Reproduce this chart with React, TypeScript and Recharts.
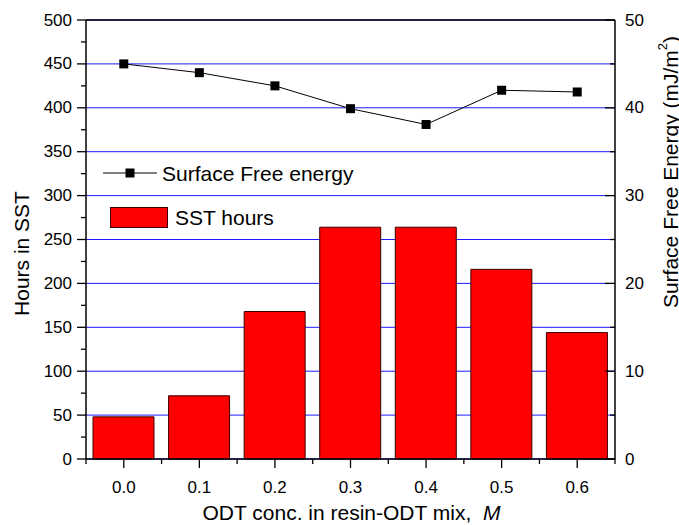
import { ComposedChart, Bar, Line, XAxis, YAxis, CartesianGrid, ReferenceLine, Legend } from "recharts";

const FONT = "'Liberation Sans', Arial, sans-serif";

// ODT concentration (M)
const odtConc = [0.0, 0.1, 0.2, 0.3, 0.4, 0.5, 0.6];
// SST hours (bars, left axis)
const sstHours = [48, 72, 168, 264, 264, 216, 144];
// Surface free energy, mJ/m2 (line, right axis)
const surfaceEnergy = [45.0, 44.0, 42.5, 39.9, 38.1, 42.0, 41.8];

const xTicks = [-0.05, 0, 0.05, 0.1, 0.15, 0.2, 0.25, 0.3, 0.35, 0.4, 0.45, 0.5, 0.55, 0.6, 0.65];
const xMajor = [0, 0.1, 0.2, 0.3, 0.4, 0.5, 0.6];
const xLabels = ["0.0", "0.1", "0.2", "0.3", "0.4", "0.5", "0.6"];

const hoursTicks = [0, 25, 50, 75, 100, 125, 150, 175, 200, 225, 250, 275, 300, 325, 350, 375, 400, 425, 450, 475, 500];
const hoursMajor = [0, 50, 100, 150, 200, 250, 300, 350, 400, 450, 500];

// right axis ticks every 5 line up with the 50 h grid
const energyTicks = [0, 5, 10, 15, 20, 25, 30, 35, 40, 45, 50];
const energyMajor = [0, 10, 20, 30, 40, 50];

const data = odtConc.map((x, i) => ({ x, hours: sstHours[i], energy: surfaceEnergy[i] }));

const near = (list: number[], v: number) => list.findIndex((m) => Math.abs(m - v) < 1e-6);

function BottomTick({ x, y, payload }: any) {
  const idx = near(xMajor, payload.value);
  const major = idx >= 0;
  return (
    <g>
      <line x1={x} x2={x} y1={y} y2={y + (major ? 9 : 5)} stroke="#000" strokeWidth={1.3} />
      {major && (
        <text x={x} y={y + 28} textAnchor="middle" dominantBaseline="central" fontSize={17} fontFamily={FONT} fill="#000">
          {xLabels[idx]}
        </text>
      )}
    </g>
  );
}

function LeftTick({ x, y, payload }: any) {
  const major = near(hoursMajor, payload.value) >= 0;
  return (
    <g>
      <line x1={x} x2={x - (major ? 9 : 5)} y1={y} y2={y} stroke="#000" strokeWidth={1.3} />
      {major && (
        <text x={x - 14} y={y} textAnchor="end" dominantBaseline="central" fontSize={17} fontFamily={FONT} fill="#000">
          {payload.value}
        </text>
      )}
    </g>
  );
}

function RightTick({ x, y, payload }: any) {
  const major = near(energyMajor, payload.value) >= 0;
  return (
    <g>
      <line x1={x} x2={x - (major ? 10 : 5)} y1={y} y2={y} stroke="#000" strokeWidth={1.3} />
      {major && (
        <text x={x + 10} y={y} textAnchor="start" dominantBaseline="central" fontSize={17} fontFamily={FONT} fill="#000">
          {payload.value}
        </text>
      )}
    </g>
  );
}

function SquareDot({ cx, cy, index }: any) {
  return <rect key={`dot-${index}`} x={cx - 4.5} y={cy - 4.5} width={9} height={9} fill="#000" />;
}

function LegendBox() {
  return (
    <svg width={260} height={90} style={{ display: "block" }}>
      <line x1={3} x2={57} y1={18} y2={18} stroke="#000" strokeWidth={1} />
      <rect x={25.5} y={13.5} width={9} height={9} fill="#000" />
      <text x={62} y={18} dominantBaseline="central" fontSize={21} fontFamily={FONT} fill="#000">
        Surface Free energy
      </text>
      <rect x={10.5} y={52.5} width={57} height={20} fill="#ff0000" stroke="#3c0000" strokeWidth={1} />
      <text x={75} y={62} dominantBaseline="central" fontSize={21} fontFamily={FONT} fill="#000">
        SST hours
      </text>
    </svg>
  );
}

function LeftTitle({ viewBox }: any) {
  const cx = viewBox.x + 21;
  const cy = viewBox.y + viewBox.height / 2 + 14;
  return (
    <text x={cx} y={cy} transform={`rotate(-90 ${cx} ${cy})`} textAnchor="middle" dominantBaseline="central" fontSize={21} fontFamily={FONT} fill="#000">
      Hours in SST
    </text>
  );
}

function RightTitle({ viewBox }: any) {
  const cx = viewBox.x + 55;
  const cy = viewBox.y + 152;
  return (
    <text x={cx} y={cy} transform={`rotate(-90 ${cx} ${cy})`} textAnchor="middle" dominantBaseline="central" fontSize={21} fontFamily={FONT} fill="#000">
      Surface Free Energy (mJ/m
      <tspan dy={-8} fontSize={13}>2</tspan>
      <tspan dy={8}>)</tspan>
    </text>
  );
}

function BottomTitle({ viewBox }: any) {
  const cx = viewBox.x + viewBox.width / 2 + 1;
  const cy = viewBox.y + 61;
  return (
    <text x={cx} y={cy} textAnchor="middle" fontSize={21} fontFamily={FONT} fill="#000" style={{ whiteSpace: "pre" }}>
      {"ODT conc. in resin-ODT mix,  "}
      <tspan fontStyle="italic">M</tspan>
    </text>
  );
}

export default function App() {
  return (
    <div style={{ position: "absolute", left: 0, top: 0, background: "#fff" }}>
      <ComposedChart width={679} height={525} data={data} margin={{ top: 20, right: 0, left: 0, bottom: 0 }}>
        <CartesianGrid yAxisId="right" vertical={false} stroke="#1a1aff" strokeWidth={1} />
        <XAxis
          dataKey="x"
          type="number"
          domain={[-0.05, 0.65]}
          ticks={xTicks}
          interval={0}
          height={66}
          tickSize={0}
          tickMargin={0}
          tickLine={false}
          tick={<BottomTick />}
          axisLine={{ stroke: "#000", strokeWidth: 1.5 }}
          label={<BottomTitle />}
        />
        <YAxis
          yAxisId="left"
          domain={[0, 500]}
          ticks={hoursTicks}
          interval={0}
          width={86}
          tickSize={0}
          tickMargin={0}
          tickLine={false}
          tick={<LeftTick />}
          axisLine={{ stroke: "#000", strokeWidth: 1.5 }}
          label={<LeftTitle />}
        />
        <YAxis
          yAxisId="right"
          orientation="right"
          domain={[0, 50]}
          ticks={energyTicks}
          interval={0}
          width={64}
          tickSize={0}
          tickMargin={0}
          tickLine={false}
          tick={<RightTick />}
          axisLine={{ stroke: "#000", strokeWidth: 1.5 }}
          label={<RightTitle />}
        />
        <ReferenceLine yAxisId="left" y={500} stroke="#000" strokeWidth={1.5} />
        <Bar yAxisId="left" dataKey="hours" barSize={61} fill="#ff0000" stroke="#3c0000" strokeWidth={1} isAnimationActive={false} />
        <Line
          yAxisId="right"
          dataKey="energy"
          type="linear"
          stroke="#000"
          strokeWidth={1}
          dot={SquareDot}
          activeDot={false}
          isAnimationActive={false}
        />
        <Legend
          layout="vertical"
          align="center"
          verticalAlign="middle"
          content={<LegendBox />}
          wrapperStyle={{ left: 100, top: 155, width: 260, height: 90 }}
        />
      </ComposedChart>
    </div>
  );
}
